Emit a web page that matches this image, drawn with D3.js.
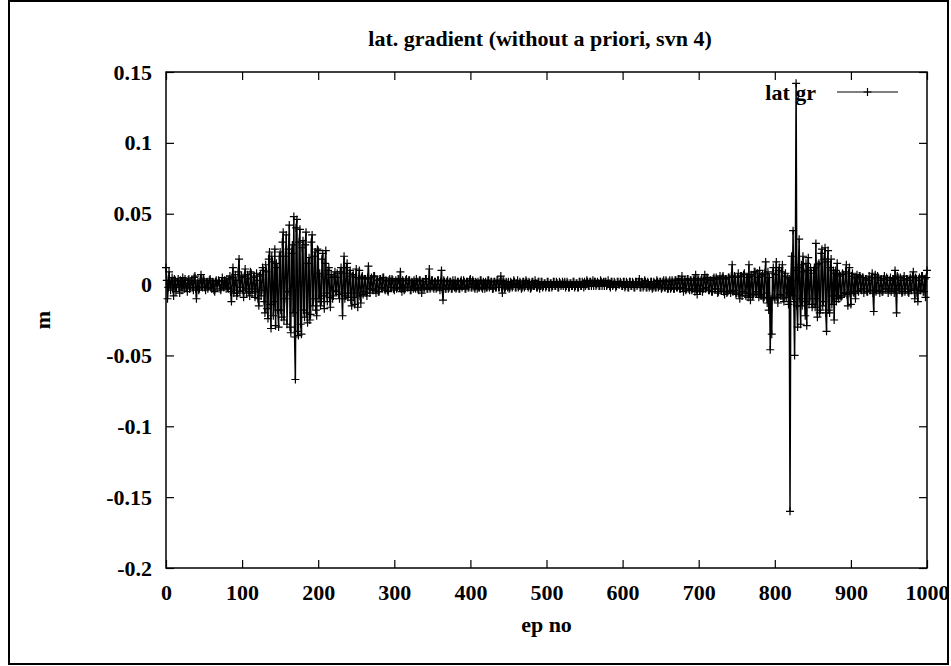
<!DOCTYPE html>
<html>
<head>
<meta charset="utf-8">
<script src="https://cdn.jsdelivr.net/npm/d3@7/dist/d3.min.js"></script>
<style>
  body { margin: 0; background: #fff; }
  svg text { font-family: "Liberation Serif", "Times New Roman", serif; font-weight: bold; font-size: 22px; fill: #000; }
</style>
</head>
<body>
<div id="chart"></div>
<script>
// lateral gradient per epoch, in mm (epochs 0..1000, 50 per row)
const epStep = 1;
const latGrMm = [
  12,3,-10,-2,9,1,-4,2,5,-3,-8,4,3,-5,-2,2,4,-1,-6,3,2,-4,5,0,-3,4,1,-2,-5,3,4,-3,-1,2,3,-2,-4,5,6,-3,-10,1,2,-4,-3,3,7,-1,-2,4,
  3,-2,-4,1,2,-3,-1,3,4,-2,-3,2,1,-4,-5,2,3,-1,0,3,2,-3,-4,2,5,-1,-2,3,1,-3,4,-2,-3,4,6,-5,-12,5,12,-6,-4,7,3,-8,-6,9,18,-5,-2,6,
  5,-4,-9,6,11,-3,-6,7,4,-5,-8,9,8,-6,-3,5,6,-9,-5,8,3,-10,-15,6,7,-8,-4,12,10,-12,-20,14,9,-17,-24,18,23,-14,-31,20,16,-22,-12,25,-29,15,12,-18,-30,20,
  23,-18,-23,30,37,-25,-10,20,35,-28,-5,25,42,-30,-34,22,28,-20,48,-37,-67,40,46,-33,-36,30,39,-28,-35,26,31,-18,-23,28,37,-20,-27,15,19,-25,-21,30,35,-15,-10,20,23,-18,-22,25,
  24,-10,8,-15,-12,18,22,-8,-17,15,24,-6,-12,10,12,-9,-16,7,5,-10,-8,6,9,-4,-5,8,5,-7,-10,9,12,-6,-22,8,20,-10,-8,12,15,-9,-6,8,10,-11,-15,6,7,-9,-14,5,
  11,-6,-16,4,10,-8,-13,5,6,-7,-5,4,4,-6,-8,5,13,-3,-6,4,5,-3,-4,6,6,-4,-6,3,3,-5,-5,4,4,-2,-3,5,5,-3,-4,3,2,-4,-5,3,4,-2,-2,4,3,-3,
  -4,2,3,-3,-2,4,4,-2,9,-3,-5,3,2,-4,-3,3,4,-2,-2,3,3,-4,-4,2,1,-3,3,-2,-3,4,2,-3,-4,3,3,-2,-6,2,2,-3,-2,4,4,-3,-3,2,11,-3,-2,3,
  3,-2,-3,2,2,-3,-2,3,3,-2,-4,2,10,-3,-11,3,2,-3,-3,2,3,-3,-2,2,2,-3,-3,3,1,-2,3,-3,-2,2,2,-3,-3,2,3,-2,-1,3,2,-3,-3,2,2,-2,-2,3,
  4,-2,-2,3,2,-2,-3,2,1,-3,2,-2,-2,3,3,-2,-3,2,1,-3,2,-2,-2,3,3,-2,-1,2,2,-3,-3,2,2,-2,-2,3,3,-2,-2,2,6,-2,-6,3,2,-3,-2,2,1,-2,
  2,-3,-2,2,1,-2,-1,3,2,-2,-2,1,3,-2,-1,2,1,-3,-2,2,2,-2,-1,3,2,-1,-2,2,1,-3,-2,2,2,-1,-1,3,1,-2,-2,2,2,-3,-1,2,2,-2,-1,1,1,-2,
  -1,2,2,-2,-2,1,1,-2,-1,2,2,-1,-1,2,1,-2,-2,2,1,-1,0,2,-1,1,2,-2,-1,2,1,-2,-2,1,1,-1,-1,2,2,-2,-1,1,1,-2,-2,2,2,-1,-1,2,1,-2,
  2,-1,0,3,2,-1,-1,2,2,-1,1,3,-1,2,2,-1,0,2,1,-1,-1,3,2,-1,1,2,-1,2,2,-1,0,3,1,-1,-2,2,2,-1,0,2,1,-2,-1,2,2,0,0,2,1,-1,
  -1,2,2,-2,-1,2,1,-2,-2,2,2,-1,-1,2,1,-2,-2,2,2,-1,0,2,4,-2,-2,2,1,-2,-1,3,2,-2,-2,2,1,-2,-1,2,2,-3,-2,2,1,-2,-2,3,2,-2,-1,2,
  2,-3,-2,2,3,-2,-2,3,2,-3,-3,2,3,-3,-2,3,2,-3,-3,3,3,-2,-2,4,4,-3,-3,3,6,-2,-5,3,3,-4,-3,4,4,-3,-4,3,3,-4,-3,3,4,-5,7,-3,-7,4,
  3,-4,-4,3,4,-5,-3,4,7,-3,-2,5,4,-4,-4,3,3,-5,-5,4,5,-3,-3,5,4,-6,-5,4,6,-3,-4,5,6,-5,-7,4,4,-6,-5,5,5,-4,-6,6,14,-5,-4,6,5,-7,
  -6,5,8,-7,-10,6,6,-8,-5,7,8,-6,-8,5,5,-9,14,-6,-11,7,6,-8,-7,9,9,-5,-6,8,5,-9,10,-7,-8,6,7,-10,-9,8,16,-6,-13,9,-18,5,-46,-10,-35,8,12,-9,
  -10,7,16,-9,-13,10,12,-7,-8,9,14,-10,-12,6,8,-9,-6,5,-14,4,-160,3,20,-8,38,-12,-50,10,142,-15,-30,12,32,-10,-28,14,-15,20,9,-12,-22,15,-29,10,19,-14,-10,12,8,-16,
  -14,10,12,-16,29,-10,-23,14,15,-20,-18,22,25,-15,-12,18,26,-20,-33,16,24,-18,-20,12,18,-14,-8,10,-25,8,10,-12,15,-8,-10,7,6,-9,-8,8,7,-6,-6,9,14,-7,-15,8,12,-6,
  -14,6,8,-5,-6,4,-10,5,7,-4,-5,6,6,-3,-4,5,5,-6,-3,4,4,-5,-5,3,6,-4,-4,5,8,-6,-19,4,7,-5,-4,6,5,-4,-6,3,4,-5,-5,4,6,-3,-3,5,4,-6,
  -4,3,5,-5,-3,4,4,-6,10,-4,-20,6,5,-3,-4,5,3,-6,-5,4,6,-5,-3,4,4,-5,-6,3,5,-4,-4,6,9,-3,-10,5,4,-6,-12,3,5,-4,-4,6,6,-5,-5,4,-9,5,
  10
];
const mmToM = 0.001;

const xTicks = [0, 100, 200, 300, 400, 500, 600, 700, 800, 900, 1000];
const yTicks = [0.15, 0.1, 0.05, 0, -0.05, -0.1, -0.15, -0.2];
const yTickLabels = ["0.15", "0.1", "0.05", "0", "-0.05", "-0.1", "-0.15", "-0.2"];

const width = 951;
const height = 666;
const margin = { top: 72, right: 24, bottom: 98, left: 166 };

const data = latGrMm.map((v, i) => ({ ep: i * epStep, val: v * mmToM }));

const svg = d3.select("#chart")
  .append("svg")
  .attr("width", width)
  .attr("height", height);

// outer border of the picture
svg.append("rect")
  .attr("x", 9).attr("y", 1)
  .attr("width", 939).attr("height", 663)
  .attr("fill", "none").attr("stroke", "#000").attr("stroke-width", 2);

const x = d3.scaleLinear()
  .domain([0, 1000])
  .range([margin.left, width - margin.right]);

const y = d3.scaleLinear()
  .domain([-0.2, 0.15])
  .range([height - margin.bottom, margin.top]);

// axes, ticks pointing inward on all four sides
svg.append("g")
  .attr("transform", `translate(0,${y(-0.2)})`)
  .call(d3.axisBottom(x).tickValues(xTicks).tickSize(-8).tickSizeOuter(0).tickPadding(16).tickFormat(d3.format("d")))
  .call(g => g.select(".domain").remove());

svg.append("g")
  .attr("transform", `translate(0,${y(0.15)})`)
  .call(d3.axisTop(x).tickValues(xTicks).tickSize(-8).tickSizeOuter(0).tickFormat(""))
  .call(g => g.select(".domain").remove());

svg.append("g")
  .attr("transform", `translate(${x(0)},0)`)
  .call(d3.axisLeft(y).tickValues(yTicks).tickSize(-8).tickSizeOuter(0).tickPadding(14)
    .tickFormat((d, i) => yTickLabels[i]))
  .call(g => g.select(".domain").remove());

svg.append("g")
  .attr("transform", `translate(${x(1000)},0)`)
  .call(d3.axisRight(y).tickValues(yTicks).tickSize(-8).tickSizeOuter(0).tickFormat(""))
  .call(g => g.select(".domain").remove());

svg.selectAll(".tick line").attr("stroke", "#000").attr("stroke-width", 1.2);

// plot frame
svg.append("rect")
  .attr("x", x(0)).attr("y", y(0.15))
  .attr("width", x(1000) - x(0)).attr("height", y(-0.2) - y(0.15))
  .attr("fill", "none").attr("stroke", "#000").attr("stroke-width", 1.5);

// title and axis labels
svg.append("text")
  .attr("x", 540).attr("y", 46)
  .attr("text-anchor", "middle")
  .text("lat. gradient (without a priori, svn 4)");

svg.append("text")
  .attr("x", (x(0) + x(1000)) / 2).attr("y", 632)
  .attr("text-anchor", "middle")
  .text("ep no");

svg.append("text")
  .attr("transform", `translate(50,${(y(0.15) + y(-0.2)) / 2}) rotate(-90)`)
  .attr("text-anchor", "middle")
  .text("m");

// the series: lines + crosses
const line = d3.line()
  .x(d => x(d.ep))
  .y(d => y(d.val));

svg.append("path")
  .datum(data)
  .attr("fill", "none")
  .attr("stroke", "#000")
  .attr("stroke-width", 1.5)
  .attr("d", line);

const cross = "M-4,0H4M0,-4V4";

svg.append("g")
  .selectAll("path")
  .data(data)
  .join("path")
  .attr("transform", d => `translate(${x(d.ep)},${y(d.val)})`)
  .attr("d", cross)
  .attr("stroke", "#000")
  .attr("stroke-width", 1.2)
  .attr("fill", "none");

// key
const key = svg.append("g");
key.append("text")
  .attr("x", 816).attr("y", 100)
  .attr("text-anchor", "end")
  .text("lat gr");
key.append("line")
  .attr("x1", 837).attr("x2", 898)
  .attr("y1", 92).attr("y2", 92)
  .attr("stroke", "#000").attr("stroke-width", 1.2);
key.append("path")
  .attr("transform", "translate(867.5,92)")
  .attr("d", cross)
  .attr("stroke", "#000").attr("stroke-width", 1.2);
</script>
</body>
</html>
